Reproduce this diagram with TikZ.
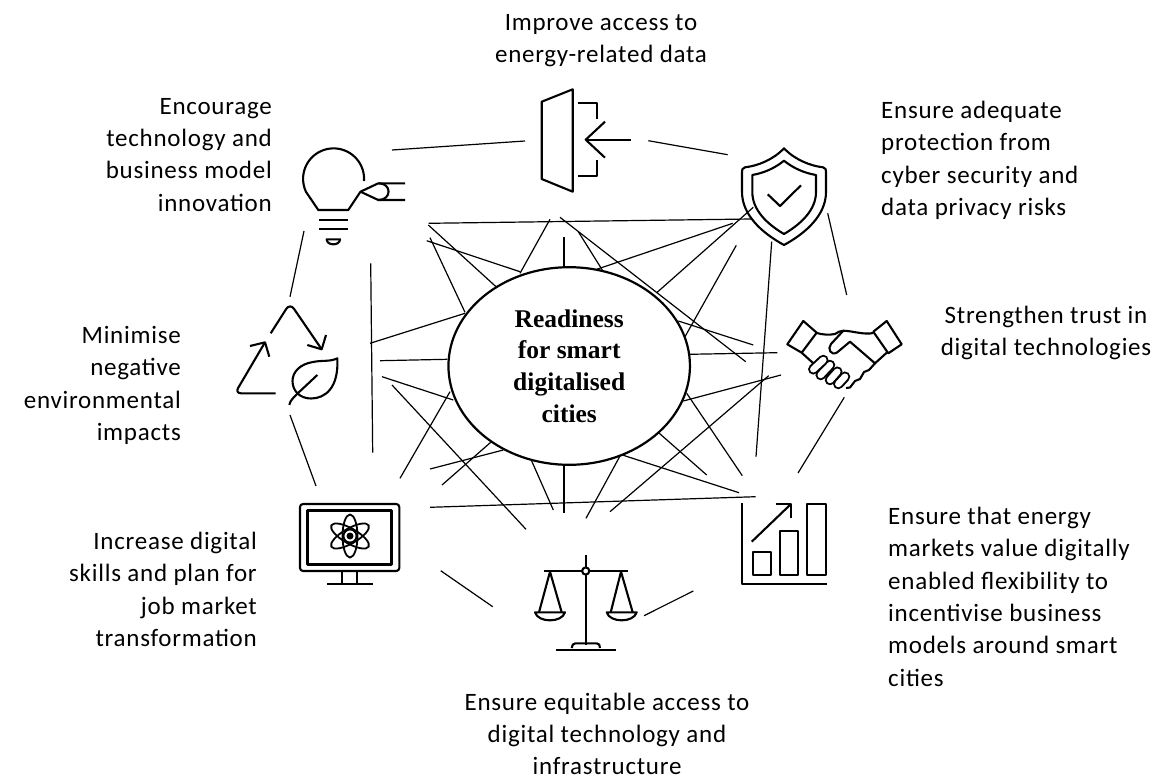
\documentclass[tikz,border=0pt]{standalone}
\usepackage{fontspec}
\setmainfont[LetterSpace=3]{Carlito}
\newfontfamily\hubfont{Liberation Serif}
\usetikzlibrary{shapes.geometric}
\tikzset{
  caption/.style={inner sep=0,font=\fontsize{25}{32.3}\selectfont},
  hub/.style={draw,ellipse,fill=white,line width=2.2,inner sep=0,minimum width=241.5,minimum height=197.6,align=center,font=\hubfont\bfseries\fontsize{25.5}{31.7}\selectfont},
  spoke/.style={line width=1.2},
  icon/.style={line width=2.1,line join=round},
  finger/.style={line width=2,double=white,double distance=6.5,line cap=round}
}
\begin{document}
\begin{tikzpicture}[x=1pt,y=-1pt]
    \useasboundingbox (0,0) rectangle (1158,779);
    % lines between the neighbouring icons and around the hub
    \foreach \id/\ax/\ay/\bx/\by in {
        r1/392/150/525/141, r2/648.3/140.7/727.7/154.7, r3/827.7/213.3/846.7/295, r4/844.3/397.3/798/473,
        r5/693.3/591/644/615.7, r6/492.7/606.7/440.7/570.7, r7/316/486/290/415, r8/290/296.7/304/231,
        s1/428.7/223.3/751/219, s2/428.3/225/496/286.7, s3/426.7/240.7/520/271.7, s4/430/237.7/465/312.3,
        s5/550/219.3/520/273.3, s6/564/237.3/564/267.3, s7/560/217.3/745.7/361.7, s8/578.3/231.7/602.3/270,
        s9/732.7/223.3/596.7/269.3, s10/753.3/207.3/656.7/292.7, s11/736.3/245.3/685/336.7, s12/678.3/321/753.3/345,
        s13/689.3/354.3/777.3/352.7, s14/781/375/683.3/401, s15/768.7/375.7/610/511.7, s16/686.7/393.3/742.3/475.7,
        s17/659.3/433.3/706.7/475, s18/623.3/455.3/739/492.7, s19/620/456/586/518.3, s20/564/465/564/512.7,
        s21/531.7/461/553.3/510, s22/503.3/450/430/469, s23/490.7/442.3/442/485, s24/450/391.7/400/478.3,
        s25/392/385/526/529.3, s26/382/376.7/453.3/400, s27/380/360.7/447.3/359.3, s28/370/343.3/465/313.3,
        s29/370.7/263.3/372.7/452.7, s30/771.7/241.7/756/456.7, s31/430/507.3/755.7/496.7}{
        \coordinate (\id a) at (\ax,\ay);
        \coordinate (\id b) at (\bx,\by);
        \draw[spoke] (\id a) -- (\id b);
    }
    \node[hub] (centre) at (569.2,366) {Readiness\\for smart\\digitalised\\cities};
    % texts
    \node[caption,anchor=north,align=center] (access) at (601,14) {Improve access to\\energy-related data};
    \node[caption,anchor=north east,align=right] (innovation) at (272,98) {Encourage\\technology and\\business model\\innovation};
    \node[caption,anchor=north west,align=left] (protection) at (881,101) {Ensure adequate\\protection from\\cyber security and\\data privacy risks};
    \node[caption,anchor=north,align=center] (trust) at (1046,306) {Strengthen trust in\\digital technologies};
    \node[caption,anchor=north east,align=right] (environment) at (181,326) {Minimise\\negative\\environmental\\impacts};
    \node[caption,anchor=north east,align=right] (skills) at (257,532) {Increase digital\\skills and plan for\\job market\\transformation};
    \node[caption,anchor=north west,align=left] (markets) at (888,507) {Ensure that energy\\markets value digitally\\enabled flexibility to\\incentivise business\\models around smart\\cities};
    \node[caption,anchor=north,align=center] (equity) at (607,692.5) {Ensure equitable access to\\digital technology and\\infrastructure};
    % data gate
    \draw[icon] (541.7,101.7) -- (572.7,89.3) -- (572.7,191.7) -- (541.7,179) -- cycle;
    \draw[icon] (578.3,103.3) -- (597.3,103.3) -- (597.3,119.3);
    \draw[icon] (597.3,160) -- (597.3,176) -- (578.3,176);
    \draw[icon] (630.7,139.7) -- (585.7,139.7);
    \draw[icon] (605,121.7) -- (585.7,139.7) -- (605,157.7);
    % shield
    \draw[icon] (784,148.3) .. controls (773,160) and (757,166) .. (745,167.3) .. controls (742,168) and (742,170) .. (742,172) -- (742,192)
        .. controls (742,215) and (762,233) .. (784,245) .. controls (806,233) and (826,215) .. (826,192) -- (826,172)
        .. controls (826,170) and (826,168) .. (823,167.3) .. controls (811,166) and (795,160) .. cycle;
    \draw[icon] (784,160.7) .. controls (775,168) and (764,173) .. (752.3,175) -- (752.3,192)
        .. controls (752.3,210) and (767,224) .. (784,234) .. controls (801,224) and (816,210) .. (816,192) -- (816,175)
        .. controls (804,173) and (793,168) .. cycle;
    \draw[icon] (767.7,194.3) -- (780,206) -- (801,185.3);
    % handshake
    \draw[icon] (803.3,321) -- (816.7,332.7) -- (801.7,352.7) -- (787.3,344.3) -- cycle;
    \draw[icon] (886.7,321) -- (873.3,331.7) -- (888.3,353.3) -- (901.7,344.3) -- cycle;
    \draw[icon] (816,332.7) .. controls (822,335) and (830,335) .. (835,334) .. controls (838,332) and (840,331) .. (843.3,330.7) .. controls (853,331) and (864,335) .. (873.3,333);
    \draw[icon] (843.3,330.7) -- (831,344) .. controls (827,349) and (831,356) .. (837,352.5) -- (850,341.7) -- (875,363.3) -- (886.7,352.7);
    \draw[icon] (801.7,352.7) -- (813.3,363.3);
    \draw[icon] (875,363.3) -- (869,370) -- (864,372) -- (860,379) -- (855,381) -- (850,387.5) -- (846,388);
    \draw[finger] (845,376.7) -- (838.3,384);
    \draw[finger] (837.3,371.7) -- (830,380);
    \draw[finger] (830,365) -- (820.7,375);
    \draw[finger] (823.3,360) -- (813.3,369.3);
    % chart
    \draw[icon] (742.3,503.3) -- (742.3,584.3) -- (826.7,584.3);
    \draw[icon] (752.7,552.3) rectangle (770.7,575);
    \draw[icon] (780,530.7) rectangle (798,575);
    \draw[icon] (807.3,504) rectangle (825.7,575);
    \draw[icon] (751.7,541.7) -- (791,504);
    \draw[icon] (775.7,504) -- (791,504) -- (791,518.3);
    % scales
    \draw[icon] (585.7,555) -- (585.7,645);
    \draw[icon] (544,571) -- (628.3,571);
    \draw[icon,fill=white] (585.7,571) circle (3.6);
    \draw[icon] (539,612.3) -- (550,571.7) -- (561.7,612.3);
    \draw[icon] (610.7,612.3) -- (621,571.7) -- (632.7,612.3);
    \draw[icon] (535,612.3) -- (565,612.3) .. controls (562,623) and (538,623) .. cycle;
    \draw[icon] (606.7,612.3) -- (636.7,612.3) .. controls (633.7,623) and (609.7,623) .. cycle;
    \draw[icon] (556,650) -- (616,650);
    \draw[icon] (571.7,648) .. controls (572,645) and (573,643.3) .. (575.5,643.3) -- (596.5,643.3) .. controls (599,643.3) and (600,645) .. (600,648);
    % monitor
    \draw[icon,rounded corners=3] (300,504) rectangle (399.3,571);
    \draw[icon,line width=2.6] (307.3,510.7) rectangle (391.7,564.3);
    \draw[icon] (342.3,571) -- (342.3,584);
    \draw[icon] (357.3,571) -- (357.3,584);
    \draw[icon] (327.3,584.3) -- (372.7,584.3);
    \foreach \tilt in {0,60,-60}
        \draw[icon,line width=1.8,rotate around={\tilt:(350,536)}] (350,536) ellipse (7.5 and 21.5);
    \draw[icon,line width=1.8] (350,536) circle (6.5);
    \fill (350,536) circle (3.5);
    % recycling
    \draw[icon,rounded corners=7] (270.7,333.3) -- (290,303) -- (321.7,349.3);
    \draw[icon] (307.3,345) -- (321.7,349.3) -- (326,335);
    \draw[icon,rounded corners=6] (275.7,393.3) -- (235,393.3) -- (265,342.3);
    \draw[icon] (250,346) -- (265,342.3) -- (269.3,356.7);
    \draw[icon] (337.3,358.3) .. controls (330,362) and (322,360) .. (313,362) .. controls (300,364) and (292.5,372) .. (292.5,381)
        .. controls (292.5,391) and (300,398.5) .. (311,398.5) .. controls (325,398.5) and (339,388) .. cycle;
    \draw[icon] (317.3,375) -- (296.7,394.3) .. controls (293,398) and (290,401) .. (289.3,405);
    % bulb
    \draw[icon] (364,181) arc (4:-205:30.5) -- (318.3,210) -- (348.3,210) -- (360.5,191.7) -- (378.3,183.3) -- (405,183.3);
    \draw[icon] (360.5,191.7) -- (378.3,200) -- (405,200);
    \draw[icon] (378.3,183.3) .. controls (392,183) and (392,200) .. (378.3,200);
    \draw[icon] (319,220) -- (348.3,220);
    \draw[icon] (319,229.3) -- (348.3,229.3);
    \draw[icon] (326.7,239.3) -- (340,239.3) .. controls (340,246) and (326.7,246) .. cycle;
\end{tikzpicture}
\end{document}
